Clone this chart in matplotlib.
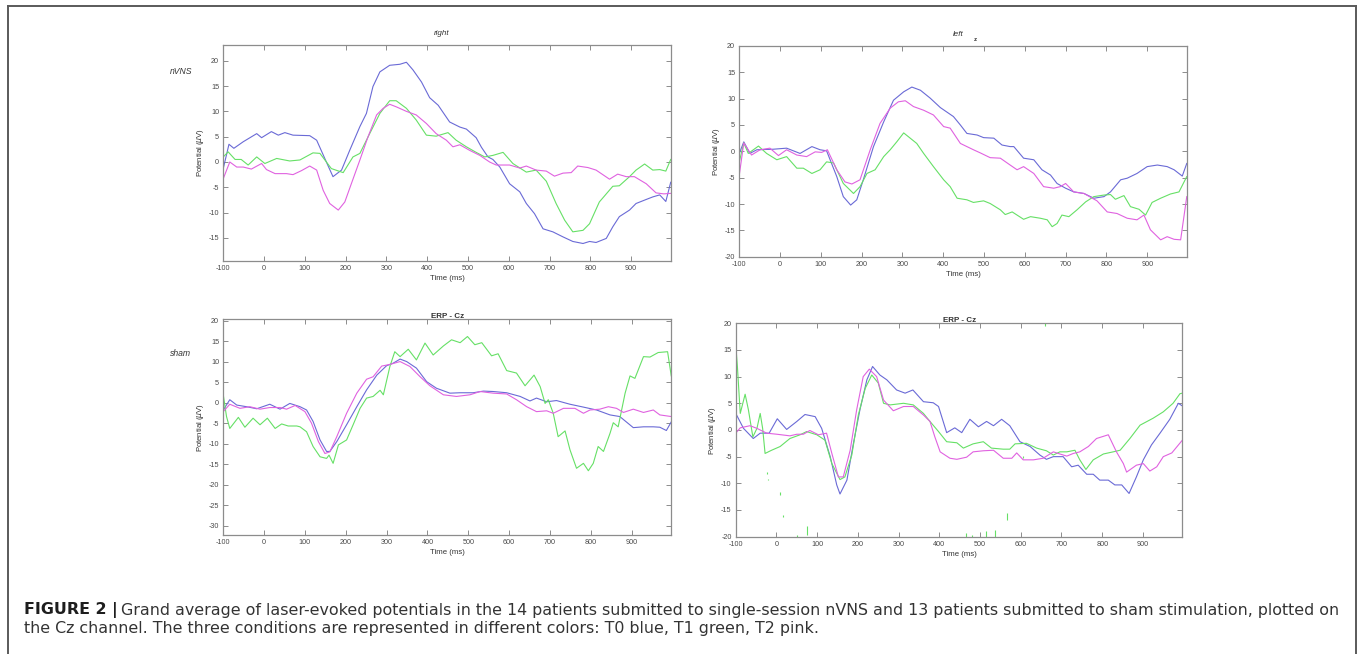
import matplotlib
matplotlib.use("Agg")
import matplotlib.pyplot as plt
from matplotlib.lines import Line2D

plt.rcParams['font.family'] = ['Liberation Sans', 'DejaVu Sans']
plt.rcParams['axes.unicode_minus'] = False

# ---- nVNS, right (T0 blue, T1 green, T2 pink) ----
nvns_right_t0_ms = [-100, -86, -74, -51, -18, -6, 18, 35, 51, 71, 112, 129, 150, 169, 190, 210, 235, 251, 267, 284, 308, 333, 349, 365, 386, 406, 427, 455, 480, 496, 520, 533, 549, 561, 578, 602, 627, 643, 663, 684, 708, 733, 757, 782, 798, 814, 839, 855, 871, 896, 912, 937, 953, 970, 985, 997]
nvns_right_t0_uv = [-1.3, 3.5, 2.7, 4.0, 5.6, 4.8, 6.0, 5.3, 5.8, 5.3, 5.2, 4.3, 0.5, -2.9, -1.6, 2.3, 7.0, 9.6, 14.9, 17.8, 19.1, 19.3, 19.7, 18.2, 15.8, 12.7, 11.2, 7.9, 6.9, 6.5, 4.8, 2.9, 1.0, 0.5, -1.0, -4.3, -5.9, -8.2, -10.2, -13.2, -13.8, -14.8, -15.7, -16.1, -15.7, -15.9, -15.1, -12.8, -10.8, -9.5, -8.2, -7.4, -6.9, -6.5, -7.8, -4.0]
nvns_right_t1_ms = [-100, -88, -71, -56, -39, -18, 2, 31, 63, 88, 120, 137, 165, 194, 218, 235, 259, 284, 308, 324, 349, 373, 398, 422, 451, 471, 496, 520, 541, 561, 586, 610, 643, 667, 692, 716, 737, 757, 782, 798, 822, 855, 871, 896, 912, 933, 953, 970, 985, 997]
nvns_right_t1_uv = [1.0, 2.0, 0.5, 0.5, -0.6, 1.0, -0.3, 0.7, 0.2, 0.4, 1.8, 1.7, -1.3, -2.1, 1.0, 1.7, 5.6, 9.6, 12.1, 12.1, 10.6, 8.3, 5.3, 5.1, 5.8, 4.3, 3.0, 1.9, 1.0, 1.3, 1.9, -0.3, -2.0, -1.6, -3.8, -8.2, -11.5, -13.8, -13.5, -12.2, -7.9, -4.8, -4.7, -2.9, -1.6, -0.4, -1.6, -1.5, -1.8, 0.5]
nvns_right_t2_ms = [-100, -84, -67, -51, -31, -6, 6, 27, 55, 71, 92, 112, 129, 145, 161, 182, 198, 214, 235, 255, 276, 292, 308, 324, 349, 373, 398, 422, 447, 463, 480, 504, 529, 553, 569, 602, 627, 643, 667, 692, 712, 733, 753, 769, 794, 814, 847, 867, 888, 908, 937, 961, 980, 997]
nvns_right_t2_uv = [-3.3, 0.0, -1.0, -1.0, -1.4, -0.3, -1.5, -2.3, -2.3, -2.5, -1.7, -0.8, -1.6, -5.6, -8.2, -9.5, -7.9, -4.3, 0.4, 5.0, 9.3, 10.6, 11.4, 10.9, 10.0, 9.3, 7.6, 5.6, 4.3, 3.0, 3.4, 2.3, 1.3, 0.0, -0.6, -0.6, -1.2, -0.8, -1.6, -1.8, -2.8, -2.2, -2.1, -0.8, -1.1, -1.6, -3.4, -2.4, -2.9, -2.9, -4.3, -6.1, -6.3, -6.2]

# ---- nVNS, left ----
nvns_left_t0_ms = [-100, -89, -74, -57, -17, 16, 49, 78, 98, 114, 139, 155, 173, 188, 204, 229, 254, 278, 303, 323, 344, 368, 393, 425, 442, 458, 483, 499, 524, 544, 564, 573, 597, 622, 642, 663, 679, 700, 720, 745, 769, 794, 810, 835, 851, 875, 900, 925, 949, 966, 986, 997]
nvns_left_t0_uv = [-0.4, 1.8, -0.4, 0.3, 0.4, 0.6, -0.4, 0.9, 0.3, 0.1, -4.8, -8.6, -10.2, -9.2, -5.4, 0.9, 5.6, 9.7, 11.3, 12.2, 11.6, 10.1, 8.3, 6.6, 5.0, 3.4, 3.1, 2.6, 2.5, 1.2, 0.9, 0.9, -1.3, -1.6, -3.5, -4.5, -6.1, -7.0, -7.7, -8.0, -8.9, -8.6, -7.7, -5.4, -5.1, -4.2, -2.9, -2.6, -2.9, -3.5, -4.7, -2.3]
nvns_left_t1_ms = [-100, -89, -78, -53, -33, -8, 16, 41, 57, 78, 98, 114, 131, 155, 180, 196, 213, 233, 254, 270, 286, 303, 319, 335, 352, 376, 401, 417, 434, 458, 474, 499, 515, 540, 552, 569, 597, 614, 638, 655, 667, 679, 691, 708, 728, 749, 769, 794, 810, 822, 843, 859, 880, 896, 912, 933, 957, 978, 997]
nvns_left_t1_uv = [-2.0, 1.6, -0.4, 1.0, -0.4, -1.6, -1.0, -3.2, -3.2, -4.2, -3.5, -2.0, -2.2, -6.1, -8.0, -6.7, -4.2, -3.5, -1.0, 0.3, 1.8, 3.5, 2.5, 1.5, -0.4, -2.9, -5.4, -6.7, -8.9, -9.2, -9.7, -9.4, -9.9, -11.1, -12.0, -11.5, -12.9, -12.4, -12.7, -13.0, -14.3, -13.7, -12.1, -12.4, -11.1, -9.6, -8.6, -8.3, -8.2, -9.1, -8.4, -10.5, -11.0, -12.1, -9.7, -8.9, -8.1, -7.7, -4.8]
nvns_left_t2_ms = [-100, -89, -70, -49, -25, -4, 16, 41, 65, 86, 102, 116, 139, 159, 176, 196, 221, 245, 270, 290, 307, 327, 352, 376, 401, 417, 442, 474, 491, 515, 540, 564, 581, 597, 622, 646, 671, 687, 700, 720, 745, 777, 802, 826, 851, 875, 892, 908, 933, 949, 966, 982, 997]
nvns_left_t2_uv = [-4.5, 1.6, -0.7, 0.3, 0.6, -0.8, 0.3, -0.7, -1.0, -0.1, -0.2, 0.3, -3.5, -5.8, -6.2, -5.4, 0.3, 5.3, 8.2, 9.4, 9.6, 8.5, 7.8, 6.9, 4.7, 4.4, 1.5, 0.3, -0.3, -1.2, -1.3, -2.6, -3.5, -2.9, -4.2, -6.7, -7.0, -6.7, -6.1, -7.7, -8.0, -9.4, -11.5, -11.8, -12.7, -13.0, -12.1, -14.9, -16.8, -16.2, -16.7, -16.8, -8.6]

# ---- sham, right ----
sham_right_t0_ms = [-100, -84, -67, -43, -18, 14, 39, 63, 88, 104, 120, 137, 153, 161, 178, 202, 227, 251, 276, 300, 316, 333, 349, 373, 398, 422, 455, 480, 512, 537, 561, 594, 627, 651, 667, 692, 716, 749, 782, 814, 847, 871, 904, 929, 953, 969, 985, 997]
sham_right_t0_uv = [-1.8, 0.7, -0.6, -1.0, -1.5, -0.4, -1.6, -0.2, -1.0, -1.8, -4.6, -9.1, -11.9, -11.9, -9.5, -5.4, -1.0, 3.1, 6.7, 9.0, 9.6, 10.6, 10.0, 8.4, 5.1, 3.5, 2.3, 2.4, 2.4, 2.8, 2.7, 2.4, 1.5, 0.4, 1.1, 0.2, 0.5, -0.4, -1.1, -1.8, -3.0, -3.4, -6.1, -5.9, -5.9, -6.0, -6.8, -4.7]
sham_right_t1_ms = [-100, -92, -84, -63, -47, -27, -10, 8, 27, 43, 59, 80, 88, 104, 120, 137, 153, 159, 169, 182, 202, 218, 235, 251, 267, 284, 292, 308, 320, 333, 353, 373, 394, 414, 439, 459, 480, 498, 516, 533, 557, 573, 594, 618, 639, 661, 676, 688, 696, 708, 720, 737, 749, 765, 782, 794, 806, 818, 831, 847, 855, 867, 884, 896, 908, 929, 945, 965, 988, 997]
sham_right_t1_uv = [1.9, -3.4, -6.3, -3.6, -6.0, -3.8, -5.4, -3.8, -6.3, -5.2, -5.7, -5.7, -5.9, -7.1, -10.7, -13.2, -13.6, -12.8, -14.8, -10.3, -9.1, -5.4, -1.4, 1.1, 1.5, 3.0, 1.9, 8.8, 12.4, 11.2, 13.0, 10.4, 14.5, 11.6, 13.8, 15.3, 14.6, 16.1, 14.1, 14.6, 11.4, 11.9, 7.8, 7.2, 4.1, 6.7, 3.9, -0.2, 0.7, -2.6, -8.3, -6.9, -11.5, -16.0, -14.8, -16.6, -14.8, -10.7, -11.9, -7.5, -4.9, -5.9, 2.3, 6.5, 5.9, 11.2, 11.1, 12.2, 12.4, 6.5]
sham_right_t2_ms = [-100, -84, -59, -35, -10, 14, 39, 55, 76, 100, 116, 133, 149, 161, 178, 202, 227, 251, 267, 288, 308, 333, 357, 382, 406, 439, 471, 504, 529, 561, 594, 618, 643, 667, 692, 708, 733, 761, 782, 798, 822, 843, 863, 880, 904, 929, 953, 969, 997]
sham_right_t2_uv = [-2.2, -0.4, -1.4, -1.0, -1.6, -1.2, -1.2, -1.6, -0.7, -2.2, -5.0, -9.5, -12.4, -12.0, -8.3, -2.6, 2.3, 5.7, 6.3, 8.9, 9.3, 10.0, 8.8, 6.3, 4.1, 1.9, 1.5, 1.9, 2.7, 2.3, 2.1, 0.7, -1.0, -2.2, -2.0, -2.6, -1.4, -1.4, -2.6, -1.8, -1.6, -1.0, -1.4, -2.4, -1.6, -2.4, -1.8, -3.0, -3.4]

# ---- sham, left ----
sham_left_t0_ms = [-100, -81, -57, -40, -18, 2, 25, 50, 70, 95, 111, 132, 148, 156, 173, 189, 205, 222, 236, 254, 271, 295, 316, 335, 361, 385, 398, 418, 438, 455, 475, 496, 516, 533, 553, 573, 598, 623, 647, 663, 680, 704, 725, 741, 762, 778, 794, 815, 831, 848, 866, 884, 901, 921, 942, 966, 987, 997]
sham_left_t0_uv = [3.1, 0.3, -1.6, -0.6, -0.6, 2.1, 0.1, 1.6, 2.9, 2.5, 0.3, -5.0, -10.3, -12.0, -9.4, -2.5, 3.8, 9.4, 11.9, 10.3, 9.4, 7.5, 6.9, 7.5, 5.3, 5.1, 4.4, -0.5, 0.4, -0.5, 2.0, 0.6, 1.6, 0.8, 2.0, 0.8, -2.2, -3.1, -4.7, -5.5, -5.0, -5.0, -6.9, -6.6, -8.3, -8.3, -9.4, -9.4, -10.3, -10.3, -11.9, -8.8, -5.6, -2.8, -0.6, 2.0, 5.0, 4.5]
sham_left_t1_ms = [-100, -96, -89, -77, -69, -58, -48, -40, -34, -28, -12, 9, 33, 58, 74, 99, 119, 136, 156, 168, 185, 201, 218, 234, 250, 263, 279, 312, 336, 361, 377, 398, 418, 443, 459, 483, 508, 528, 557, 573, 586, 614, 639, 663, 680, 696, 713, 733, 745, 760, 778, 803, 827, 844, 868, 893, 925, 950, 974, 991, 997]
sham_left_t1_uv = [15.9, 11.9, 3.1, 6.7, 3.8, -1.3, 0.3, 3.1, 0.3, -4.4, -3.8, -3.1, -1.6, -0.9, -0.3, -0.9, -1.9, -6.3, -9.3, -8.8, -4.7, 2.8, 7.8, 10.3, 8.8, 5.0, 4.7, 5.0, 4.7, 3.1, 1.6, -0.3, -2.2, -2.4, -3.4, -2.6, -2.2, -3.4, -3.6, -3.6, -2.6, -2.5, -3.4, -3.9, -4.7, -4.1, -4.1, -3.8, -5.6, -7.4, -5.6, -4.5, -4.1, -3.8, -1.6, 0.9, 2.2, 3.4, 5.0, 6.8, 6.9]
sham_left_t2_ms = [-100, -89, -65, -48, -24, 1, 33, 50, 66, 82, 103, 123, 136, 152, 164, 181, 197, 213, 228, 246, 263, 287, 312, 336, 361, 377, 389, 402, 426, 443, 467, 483, 508, 533, 557, 578, 590, 606, 631, 655, 680, 696, 713, 729, 745, 766, 786, 815, 835, 852, 860, 884, 901, 917, 934, 950, 971, 997]
sham_left_t2_uv = [-0.6, 0.4, 0.8, 0.3, -0.6, -0.8, -1.1, -0.8, -0.8, -0.1, -0.9, -0.6, -4.4, -8.8, -8.8, -3.8, 3.8, 10.0, 11.4, 10.0, 5.6, 3.6, 4.4, 4.4, 2.8, 1.6, -1.3, -4.1, -5.3, -5.5, -5.1, -4.1, -3.9, -3.8, -5.3, -5.3, -4.3, -5.6, -5.6, -5.3, -4.1, -4.5, -4.9, -4.4, -4.1, -3.1, -1.6, -0.9, -4.1, -6.3, -7.9, -6.6, -6.3, -7.7, -6.9, -5.0, -4.3, -1.9]
# broken T1 fragments left below the sham/left traces
sham_left_t1_frag_ms = [-24, -22, 9, 15, 50, 74, 465, 479, 515, 537, 567, 605, 659]
sham_left_t1_frag_lo = [-8.3, -9.4, -12.2, -16.4, -20.0, -19.7, -20.0, -20.0, -20.0, -20.0, -16.9, -5.2, 19.5]
sham_left_t1_frag_hi = [-7.8, -9.1, -11.6, -15.9, -19.7, -18.0, -19.4, -19.7, -18.9, -18.8, -15.6, -4.9, 20.0]

x_ticks = list(range(-100, 1000, 100))
t0_color = '#6a6ad6'
t1_color = '#66e066'
t2_color = '#e062e0'
frame_color = '#8c8c8c'
tick_text = '#4a4a4a'

W, H = 1358, 654
fig = plt.figure(figsize=(W / 100, H / 100), dpi=100)

def panel(rect, ylim, yticks, series, title=None, title_weight='normal', title_style='italic', title_y=1.02):
    ax = fig.add_axes(rect)
    for t, v, c in series:
        ax.plot(t, v, color=c, lw=0.8)
    ax.set_xlim(-100, 997)
    ax.set_ylim(*ylim)
    ax.set_xticks(x_ticks)
    ax.set_yticks(yticks)
    ax.tick_params(direction='in', length=3.5, width=0.7, colors=frame_color,
                   labelcolor=tick_text, labelsize=5.2, top=True, right=True, pad=3)
    for s in ax.spines.values():
        s.set_color(frame_color)
        s.set_linewidth(0.9)
    ax.set_xlabel('Time (ms)', fontsize=5.6, color='#333333', labelpad=2)
    ax.set_ylabel('Potential ($\\mu$V)', fontsize=5.6, color='#333333', labelpad=2)
    if title:
        ax.set_title(title, fontsize=5.8, fontweight=title_weight, fontstyle=title_style,
                     color='#333333', y=title_y, pad=0)
    return ax

ax1 = panel([0.1644, 0.6006, 0.3295, 0.3313], (-19.6, 23.2), range(-15, 21, 5),
            [(nvns_right_t0_ms, nvns_right_t0_uv, t0_color),
             (nvns_right_t1_ms, nvns_right_t1_uv, t1_color),
             (nvns_right_t2_ms, nvns_right_t2_uv, t2_color)])
ax1.text(0.488, 1.035, 'right', transform=ax1.transAxes, fontsize=5.8, fontstyle='italic',
         color='#333333', ha='center', va='bottom')

ax2 = panel([0.5444, 0.6075, 0.3295, 0.3222], (-20, 20), range(-20, 21, 5),
            [(nvns_left_t0_ms, nvns_left_t0_uv, t0_color),
             (nvns_left_t1_ms, nvns_left_t1_uv, t1_color),
             (nvns_left_t2_ms, nvns_left_t2_uv, t2_color)])
ax2.text(0.49, 1.04, 'left', transform=ax2.transAxes, fontsize=5.8, fontstyle='italic',
         color='#333333', ha='center', va='bottom')
ax2.text(0.527, 1.02, 'z', transform=ax2.transAxes, fontsize=4.5, fontweight='bold',
         color='#333333', ha='center', va='bottom')

ax3 = panel([0.1644, 0.1817, 0.3299, 0.3301], (-32.3, 20.3), range(-30, 21, 5),
            [(sham_right_t0_ms, sham_right_t0_uv, t0_color),
             (sham_right_t1_ms, sham_right_t1_uv, t1_color),
             (sham_right_t2_ms, sham_right_t2_uv, t2_color)],
            title='ERP - Cz', title_weight='bold', title_style='normal', title_y=1.005)

ax4 = panel([0.5418, 0.1794, 0.3289, 0.3263], (-20, 20), range(-20, 21, 5),
            [(sham_left_t0_ms, sham_left_t0_uv, t0_color),
             (sham_left_t1_ms, sham_left_t1_uv, t1_color),
             (sham_left_t2_ms, sham_left_t2_uv, t2_color)],
            title='ERP - Cz', title_weight='bold', title_style='normal', title_y=1.005)
ax4.vlines(sham_left_t1_frag_ms, sham_left_t1_frag_lo, sham_left_t1_frag_hi,
           color=t1_color, lw=0.8)

# row labels
fig.text(180.7 / W, 1 - 72 / H, 'nVNS', fontsize=6.2, fontstyle='italic',
         color='#333333', ha='center', va='center')
fig.text(180.7 / W, 1 - 354 / H, 'sham', fontsize=6.2, fontstyle='italic',
         color='#333333', ha='center', va='center')

# frame around the figure (open at the bottom)
for xs, ys in [([8 / W, 8 / W], [0, 1 - 6 / H]),
               ([8 / W, 1355.5 / W], [1 - 6 / H, 1 - 6 / H]),
               ([1355.5 / W, 1355.5 / W], [1 - 6 / H, 0])]:
    fig.add_artist(Line2D(xs, ys, transform=fig.transFigure, color='#5a5a5a', lw=1.4))

# caption: first line spans the text block, size found by measuring
cap_left, cap_right = 24, 1338
cap_font = ['DejaVu Sans']
line1 = ('Grand average of laser-evoked potentials in the 14 patients submitted to '
         'single-session nVNS and 13 patients submitted to sham stimulation, plotted on')
line2 = ('the Cz channel. The three conditions are represented in different colors: '
         'T0 blue, T1 green, T2 pink.')

renderer = fig.canvas.get_renderer()
size = 10.0
lead = fig.text(cap_left / W, 1 - 614.5 / H, 'FIGURE 2 |', fontsize=size, family=cap_font,
                fontweight='bold', color='#1e1e1e', ha='left', va='baseline')
rest = fig.text(0, 1 - 614.5 / H, line1, fontsize=size, family=cap_font,
                color='#333333', ha='left', va='baseline')
for _ in range(4):
    lead.set_fontsize(size)
    rest.set_fontsize(size)
    bl = lead.get_window_extent(renderer)
    br = rest.get_window_extent(renderer)
    total = bl.width + 0.3 * size + br.width
    size *= (cap_right - cap_left) / total
lead.set_fontsize(size)
rest.set_fontsize(size)
bl = lead.get_window_extent(renderer)
rest.set_x((bl.x1 + 0.3 * size) / W)
fig.text(cap_left / W, 1 - 632.5 / H, line2, fontsize=size, family=cap_font,
         color='#333333', ha='left', va='baseline')

fig.savefig('out.png', dpi=100)
